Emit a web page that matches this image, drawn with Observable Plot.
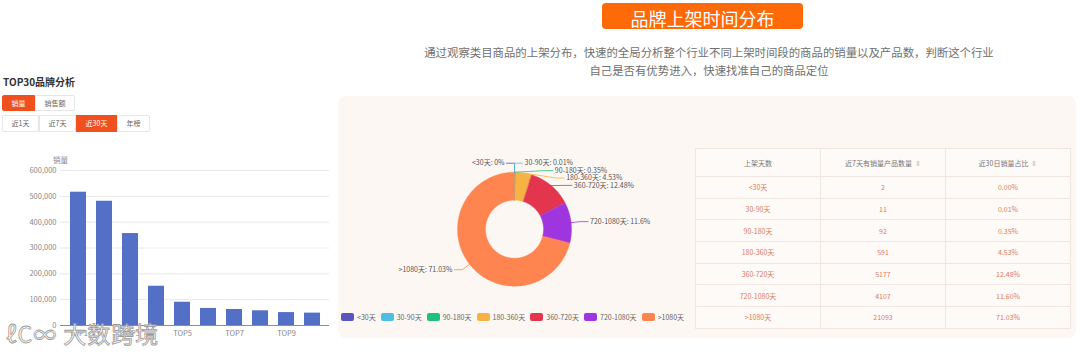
<!DOCTYPE html>
<html><head><meta charset="utf-8">
<script src="https://cdn.jsdelivr.net/npm/d3@7"></script>
<script src="https://cdn.jsdelivr.net/npm/@observablehq/plot@0.6"></script>
<style>
body{margin:0;width:1080px;height:354px;position:relative;overflow:hidden;background:#fff;font-family:"Noto Sans CJK SC","Noto Sans",sans-serif;}
.abs{position:absolute;}
#banner{left:602px;top:3px;width:201px;height:26px;background:#ff6a08;border-radius:4px;color:#fff;font-size:18px;line-height:30px;text-align:center;white-space:nowrap;}
#sub{left:359px;top:43px;width:700px;text-align:center;font-size:11.4px;line-height:18.4px;color:#707070;}
#hdr{left:3px;top:74px;font-size:10px;font-weight:bold;color:#333;}
.btn{position:absolute;box-sizing:border-box;border:1px solid #e6e6e6;font-size:7px;color:#666;text-align:center;background:#fff;}
.btn.on{background:#f0501e;color:#fff;border-color:#f0501e;}
#panel{left:338px;top:96px;width:738px;height:242px;background:#fdf7f3;border-radius:8px;}
#legend{left:341px;top:312px;display:flex;align-items:center;font-size:7px;color:#666;}
#legend .it{display:flex;align-items:center;margin-right:5px;}
#legend .sw{width:13px;height:8px;border-radius:2px;margin-right:3px;}
#tbl{left:695px;top:148px;width:376px;border-collapse:collapse;font-size:7px;table-layout:fixed;background:#fefaf7;}
#tbl td,#tbl th{border:1px solid #f1e6df;text-align:center;padding:0;font-weight:normal;}
#tbl th{height:27px;color:#777;}
#tbl td{height:20.7px;color:#dc7a5c;}
#tbl .srt{color:#bbb;margin-left:3px;}
#wm{left:6px;top:316px;font-size:23px;color:rgba(255,255,255,0.85);-webkit-text-stroke:0.8px #9a9a9a;letter-spacing:1px;white-space:nowrap;}
</style></head>
<body>
<div id="panel" class="abs"></div>
<div id="banner" class="abs">品牌上架时间分布</div>
<div id="sub" class="abs">通过观察类目商品的上架分布，快速的全局分析整个行业不同上架时间段的商品的销量以及产品数，判断这个行业<br>自己是否有优势进入，快速找准自己的商品定位</div>
<div id="hdr" class="abs">TOP30品牌分析</div>
<div class="btn on" style="left:2px;top:95px;width:33px;height:16px;line-height:14px;border-radius:2px 0 0 2px;">销量</div>
<div class="btn" style="left:35px;top:95px;width:40px;height:16px;line-height:14px;border-radius:0 2px 2px 0;">销售额</div>
<div class="btn" style="left:2px;top:115px;width:37px;height:17px;line-height:15px;border-radius:2px 0 0 2px;">近1天</div>
<div class="btn" style="left:39px;top:115px;width:37px;height:17px;line-height:15px;">近7天</div>
<div class="btn on" style="left:76px;top:115px;width:41px;height:17px;line-height:15px;">近30天</div>
<div class="btn" style="left:117px;top:115px;width:33px;height:17px;line-height:15px;border-radius:0 2px 2px 0;">年榜</div>
<div id="bars" class="abs" style="left:0;top:150px;"></div>
<div id="donut" class="abs" style="left:338px;top:140px;"></div>
<div id="legend" class="abs"></div>
<table id="tbl" class="abs"></table>
<div id="wm" class="abs">ℓC∞ 大数跨境</div>
<script>
// ---- bar chart data ----
const brands = ["TOP1","TOP2","TOP3","TOP4","TOP5","TOP6","TOP7","TOP8","TOP9","TOP10"];
const sales = [516000, 481000, 356000, 152000, 90000, 66000, 62000, 57000, 50000, 48000];
const yTicks = [0, 100000, 200000, 300000, 400000, 500000, 600000];
const xTickLabels = ["TOP1","TOP3","TOP5","TOP7","TOP9"];

// ---- shelf-time distribution data ----
const cats = ["<30天","30-90天","90-180天","180-360天","360-720天","720-1080天",">1080天"];
const shares = [0, 0.01, 0.35, 4.53, 12.48, 11.6, 71.03];
const counts = [2, 11, 92, 591, 5177, 4107, 21093];
const colors = ["#5a54bd","#4dbfe2","#1fc17d","#f6b343","#e4354f","#9e35df","#fe8550"];
const tableHead = ["上架天数","近7天有销量产品数量","近30日销量占比"];

const FONT = '"Noto Sans CJK SC","Noto Sans",sans-serif';
const barData = brands.map((b,i)=>({brand:b, sales:sales[i]}));

const bars = Plot.plot({
  width: 335, height: 200,
  marginLeft: 60, marginRight: 6, marginTop: 20, marginBottom: 25,
  style: {fontSize: "7.5px", fontFamily: FONT, color: "#888", background: "transparent", overflow: "visible"},
  x: {domain: brands, paddingInner: 0.4, paddingOuter: 0.2, axis: null},
  y: {domain: [0, 600000], axis: null},
  marks: [
    Plot.gridY(yTicks, {stroke: "#e9e9e9", strokeOpacity: 1}),
    Plot.barY(barData, {x: "brand", y: "sales", fill: "#5470c6"}),
    Plot.ruleY([0], {stroke: "#8a8d96", strokeWidth: 1}),
    Plot.axisY(yTicks, {tickFormat: d3.format(","), tickSize: 0, tickPadding: 4, label: null, fill: "#888"}),
    Plot.axisX(xTickLabels, {tickSize: 0, tickPadding: 5, label: null, fill: "#888"}),
    Plot.text(["销量"], {frameAnchor: "top-left", dy: -13, textAnchor: "middle", fill: "#888"})
  ]
});
document.getElementById("bars").appendChild(bars);

// ---- donut geometry from data ----
const pie = d3.pie().sort(null).value(d=>d)(shares);
const inner = 29/57;
const arcPts = [];
pie.forEach((p,i)=>{
  const a0 = p.startAngle, a1 = p.endAngle;
  if (a1 - a0 <= 0) return;
  const n = Math.max(2, Math.ceil((a1-a0)/0.02));
  for (let k=0;k<=n;k++){ const a=a0+(a1-a0)*k/n; arcPts.push({cat:cats[i], x:Math.sin(a), y:Math.cos(a)}); }
  for (let k=n;k>=0;k--){ const a=a0+(a1-a0)*k/n; arcPts.push({cat:cats[i], x:inner*Math.sin(a), y:inner*Math.cos(a)}); }
});
const R = 66/57, gap = 7.4/57, len2 = 8/57;
const labels = pie.map((p,i)=>{
  const m = (p.startAngle+p.endAngle)/2;
  return {cat:cats[i], text: cats[i]+": "+shares[i]+"%", side: Math.sin(m)>0?1:-1,
          px: Math.sin(m), py: Math.cos(m), ey: R*Math.cos(m)};
});
[1,-1].forEach(s=>{
  const list = labels.filter(l=>l.side===s).sort((a,b)=>b.ey-a.ey);
  let prev = Infinity;
  list.forEach(l=>{
    l.ey = Math.min(l.ey, prev-gap); prev = l.ey;
    l.ex = s*Math.sqrt(Math.max(0, R*R - l.ey*l.ey));
    l.hx = l.ex + s*len2;
  });
});
const linePts = [];
labels.forEach(l=>{
  linePts.push({cat:l.cat, x:l.px, y:l.py});
  linePts.push({cat:l.cat, x:l.ex, y:l.ey});
  linePts.push({cat:l.cat, x:l.hx, y:l.ey});
});

const donut = Plot.plot({
  width: 355, height: 170, margin: 0,
  style: {fontSize: "7px", fontFamily: FONT, background: "transparent", overflow: "visible"},
  x: {domain: [-1,1], range: [176-57, 176+57], axis: null},
  y: {domain: [-1,1], range: [88.7+57, 88.7-57], axis: null},
  color: {domain: cats, range: colors},
  marks: [
    Plot.line(arcPts, {x:"x", y:"y", z:"cat", fill:"cat", stroke:"cat", strokeWidth:0.4, curve:"linear-closed"}),
    Plot.line(linePts, {x:"x", y:"y", z:"cat", stroke:"cat", strokeWidth:0.8}),
    Plot.text(labels.filter(l=>l.side>0), {x:"hx", y:"ey", text:"text", textAnchor:"start", dx:2, fill:"#555"}),
    Plot.text(labels.filter(l=>l.side<0), {x:"hx", y:"ey", text:"text", textAnchor:"end", dx:-2, fill:"#555"})
  ]
});
document.getElementById("donut").appendChild(donut);

// ---- legend ----
const lg = document.getElementById("legend");
cats.forEach((c,i)=>{
  const it = document.createElement("div"); it.className="it";
  const sw = document.createElement("div"); sw.className="sw"; sw.style.background=colors[i];
  const tx = document.createElement("span"); tx.textContent=c;
  it.appendChild(sw); it.appendChild(tx); lg.appendChild(it);
});

// ---- table ----
const tb = document.getElementById("tbl");
const hr = document.createElement("tr");
tableHead.forEach((h,j)=>{
  const th = document.createElement("th"); th.textContent = h;
  if (j>0){ const s=document.createElement("span"); s.className="srt"; s.textContent="⇕"; th.appendChild(s); }
  hr.appendChild(th);
});
tb.appendChild(hr);
cats.forEach((c,i)=>{
  const tr = document.createElement("tr");
  [c, String(counts[i]), shares[i].toFixed(2)+"%"].forEach(v=>{
    const td=document.createElement("td"); td.textContent=v; tr.appendChild(td);
  });
  tb.appendChild(tr);
});
</script>
</body></html>
